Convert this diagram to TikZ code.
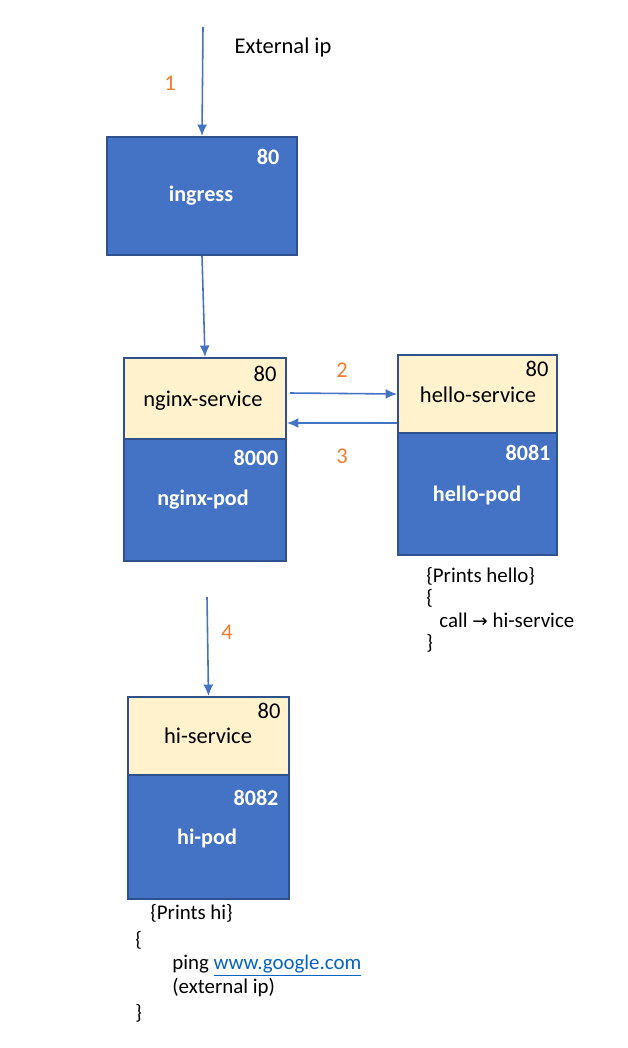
\documentclass[tikz,border=0pt]{standalone}
\usepackage{fontspec}
\usetikzlibrary{arrows.meta}
\setmainfont{Carlito}
\newfontfamily\symfont{DejaVu Sans}
\definecolor{podblue}{HTML}{4472C4}
\definecolor{edgeblue}{HTML}{2F528F}
\definecolor{svcyellow}{HTML}{FFF2CC}
\definecolor{steporange}{HTML}{ED7D31}
\definecolor{linkblue}{HTML}{0563C1}
\begin{document}
\begin{tikzpicture}
                                [
                                    x=0.02cm, y=-0.02cm,
                                    pod/.style = {draw=edgeblue, fill=podblue, shape=rectangle, line width=1.1pt, inner sep=0pt},
                                    svc/.style = {draw=edgeblue, fill=svcyellow, shape=rectangle, line width=1.1pt, inner sep=0pt},
                                    flow/.style = {draw=podblue, line width=0.9pt, -{Latex[length=2.3mm,width=2mm]}},
                                    whitetxt/.style = {text=white, font=\fontsize{12.6}{14}\selectfont\bfseries},
                                    blacktxt/.style = {text=black, font=\fontsize{12.8}{14}\selectfont},
                                    steptxt/.style = {text=steporange, font=\fontsize{12.8}{14}\selectfont},
                                    notetxt/.style = {text=black, font=\fontsize{11.9}{13}\selectfont, anchor=west, inner sep=0pt},
                                ]

                                \useasboundingbox (0,0) rectangle (628,1048);

                                \coordinate (entry) at (203,27);
                                \coordinate (down) at (207,597);

                                \node[pod, minimum width=3.8cm, minimum height=2.36cm] (ingress) at (202,196)     {};
                                \node[whitetxt] (ingressport) at (268,157)     {80};
                                \node[whitetxt] (ingresslabel) at (201,196)     {ingress};

                                \node[svc, minimum width=3.24cm, minimum height=1.62cm] (nginxsvc) at (205,398.5)     {};
                                \node[pod, minimum width=3.24cm, minimum height=2.44cm] (nginxpod) at (205,500)     {};
                                \node[blacktxt] (nginxsvcport) at (265,374)     {80};
                                \node[blacktxt] (nginxsvclabel) at (203,401)     {nginx-service};
                                \node[whitetxt] (nginxpodport) at (256,458)     {8000};
                                \node[whitetxt] (nginxpodlabel) at (203,500)     {nginx-pod};

                                \node[svc, minimum width=3.18cm, minimum height=1.56cm] (hellosvc) at (477.5,394)     {};
                                \node[pod, minimum width=3.18cm, minimum height=2.44cm] (hellopod) at (477.5,494)     {};
                                \node[blacktxt] (hellosvcport) at (537,369)     {80};
                                \node[blacktxt] (hellosvclabel) at (478,395)     {hello-service};
                                \node[whitetxt] (hellopodport) at (528,453)     {8081};
                                \node[whitetxt] (hellopodlabel) at (477,495)     {hello-pod};

                                \node[svc, minimum width=3.22cm, minimum height=1.56cm] (hisvc) at (208.5,736)     {};
                                \node[pod, minimum width=3.22cm, minimum height=2.48cm] (hipod) at (208.5,837)     {};
                                \node[blacktxt] (hisvcport) at (269,711)     {80};
                                \node[blacktxt] (hisvclabel) at (208,736)     {hi-service};
                                \node[whitetxt] (hipodport) at (256,798)     {8082};
                                \node[whitetxt] (hipodlabel) at (207,838)     {hi-pod};

                                \node[blacktxt] (extip) at (283,48)     {External ip};
                                \node[steptxt] (step1) at (170,83)     {1};
                                \node[steptxt] (step2) at (342,370)     {2};
                                \node[steptxt] (step3) at (342,456)     {3};
                                \node[steptxt] (step4) at (227,632)     {4};

                                \node[notetxt] (hellonote1) at (426,576)     {\{Prints hello\}};
                                \node[notetxt] (hellonote2) at (426,598)     {\{};
                                \node[notetxt] (hellonote3) at (439,620)     {call {\symfont\fontsize{10.5}{12}\selectfont →} hi-service};
                                \node[notetxt] (hellonote4) at (426,643)     {\}};

                                \node[notetxt] (hinote1) at (150,913)     {\{Prints hi\}};
                                \node[notetxt] (hinote2) at (135,940)     {\{};
                                \node[notetxt] (hinote3) at (172,966)     {ping \textcolor{linkblue}{\underline{www.google.com}}};
                                \node[notetxt] (hinote4) at (172,988)     {(external ip)};
                                \node[notetxt] (hinote5) at (135,1013)     {\}};

                                \draw[flow] (entry) -- (ingress.north);
                                \draw[flow] (ingress.south) -- (nginxsvc.north);
                                \draw[flow] ([shift={(3,-5.5)}]nginxsvc.east) -- (hellosvc.west);
                                \draw[flow] ([shift={(0,29)}]hellosvc.west) -- ([shift={(0,24.5)}]nginxsvc.east);
                                \draw[flow] (down) -- (hisvc.north);

                            \end{tikzpicture}
\end{document}
